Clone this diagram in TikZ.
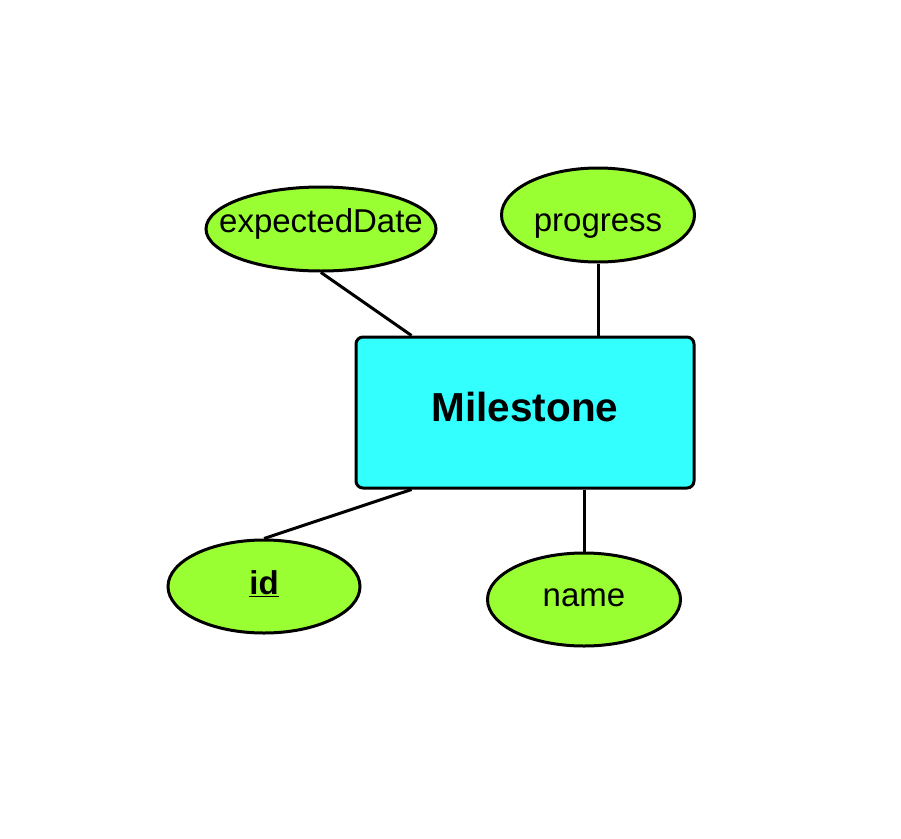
\documentclass[tikz,border=0pt]{standalone}
\usepackage{fontspec}
\setmainfont{Liberation Sans}
\usetikzlibrary{shapes.geometric,backgrounds}
\definecolor{attrgreen}{HTML}{99FF33}
\definecolor{entcyan}{HTML}{33FFFF}
\newcommand{\placetxt}[2]{\makebox[0pt]{\raisebox{#1}[0pt][0pt]{#2}}}
\begin{document}
\begin{tikzpicture}[x=1pt,y=-1pt,
  attr/.style={ellipse,draw=black,line width=3pt,fill=attrgreen,inner sep=0pt,
    font=\fontsize{33}{40}\selectfont},
  entity/.style={rectangle,draw=black,line width=3pt,fill=entcyan,rounded corners=7pt,
    minimum width=338pt,minimum height=151pt,inner sep=0pt,
    font=\fontsize{40.5}{48}\selectfont\bfseries},
  link/.style={draw=black,line width=3pt}]
\useasboundingbox (0,0) rectangle (901,838);
\node[entity] (ms) at (525,412.5) {\placetxt{-8.5pt}{Milestone}};
\node[attr,minimum width=230pt,minimum height=84pt] (ed) at (321,229) {\placetxt{-3pt}{expectedDate}};
\node[attr,minimum width=193pt,minimum height=94pt] (pg) at (598,215) {\placetxt{-16pt}{progress}};
\node[attr,minimum width=192pt,minimum height=93pt] (id) at (264,586.5) {\placetxt{-8pt}{\textbf{\underline{id}}}};
\node[attr,minimum width=193pt,minimum height=93pt] (nm) at (584,599.5) {\placetxt{-7pt}{name}};
\begin{scope}[on background layer]
\draw[link] (ed.south) -- ([xshift=57pt]ms.north west);
\draw[link] (pg.south) -- (pg.south |- ms.north);
\draw[link] (id.north) -- ([xshift=57pt]ms.south west);
\draw[link] (nm.north) -- (nm.north |- ms.south);
\end{scope}
\end{tikzpicture}
\end{document}
